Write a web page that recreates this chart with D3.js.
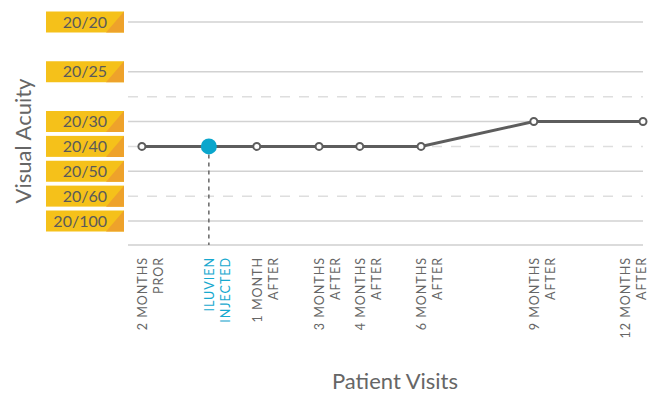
<!DOCTYPE html>
<html>
<head>
<meta charset="utf-8">
<script src="https://cdn.jsdelivr.net/npm/d3@7"></script>
<style>
  body { margin: 0; background: #fff; }
  text { font-family: Lato, "Open Sans", sans-serif; }
</style>
</head>
<body>
<div id="chart"></div>
<script>
// acuity levels (rank on the chart, top = best)
const acuityLabels = ['20/20', '20/25', '20/30', '20/40', '20/50', '20/60', '20/100'];
const acuityRank   = [0, 2, 4, 5, 6, 7, 8];
const gridRanks    = [0, 2, 3, 4, 5, 6, 7, 8];

// visits: position along the axis (percent of axis length) and acuity
const visitLine1 = ['2 MONTHS', 'ILUVIEN', '1 MONTH', '3 MONTHS', '4 MONTHS', '6 MONTHS', '9 MONTHS', '12 MONTHS'];
const visitLine2 = ['PROR', 'INJECTED', 'AFTER', 'AFTER', 'AFTER', 'AFTER', 'AFTER', 'AFTER'];
const visitPos   = [2.7, 15.7, 25.0, 37.1, 45.0, 56.9, 78.8, 100];
const visitAcuity = ['20/40', '20/40', '20/40', '20/40', '20/40', '20/40', '20/30', '20/30'];
const injectedIndex = 1;

const W = 650, H = 396;
const svg = d3.select('#chart').append('svg')
    .attr('width', W)
    .attr('height', H);

const x = d3.scaleLinear().domain([0, 100]).range([128, 643]);
const y = d3.scaleLinear().domain([0, 8]).range([22, 221]);
const rankOf = lbl => acuityRank[acuityLabels.indexOf(lbl)];

// grid lines: even ranks solid, odd ranks dashed
svg.append('g').selectAll('line')
    .data(gridRanks)
    .enter().append('line')
    .attr('x1', x(0)).attr('x2', x(100))
    .attr('y1', d => y(d)).attr('y2', d => y(d))
    .style('stroke', d => d % 2 === 0 ? '#d2d2d2' : '#dedede')
    .style('stroke-width', 1.5)
    .style('stroke-dasharray', d => d % 2 === 0 ? null : '10,9');

// x axis baseline
svg.append('line')
    .attr('x1', x(0)).attr('x2', x(100))
    .attr('y1', 245).attr('y2', 245)
    .style('stroke', '#cfcfcf')
    .style('stroke-width', 1.5);

// badges
const badge = svg.append('g').selectAll('g')
    .data(acuityLabels)
    .enter().append('g')
    .attr('transform', (d, i) => `translate(46,${y(acuityRank[i]) - 10.5})`);

badge.append('rect')
    .attr('width', 78).attr('height', 21)
    .style('fill', '#f5c11a');

badge.append('path')
    .attr('d', 'M60,21 L78,0 L78,21 Z')
    .style('fill', '#eea22b');

badge.append('text')
    .attr('x', 61).attr('y', 16)
    .attr('text-anchor', 'end')
    .style('font-size', '16px')
    .style('fill', '#5a5a5a')
    .text(d => d);

// dashed drop line for injection
svg.append('line')
    .attr('x1', x(visitPos[injectedIndex])).attr('x2', x(visitPos[injectedIndex]))
    .attr('y1', y(rankOf(visitAcuity[injectedIndex]))).attr('y2', 245)
    .style('stroke', '#666')
    .style('stroke-width', 1.5)
    .style('stroke-dasharray', '4,4');

// series line
const line = d3.line()
    .x((d, i) => x(visitPos[i]))
    .y(d => y(rankOf(d)));

svg.append('path')
    .datum(visitAcuity)
    .attr('d', line)
    .style('fill', 'none')
    .style('stroke', '#5d5d5d')
    .style('stroke-width', 3);

// markers
svg.append('g').selectAll('circle')
    .data(visitAcuity)
    .enter().append('circle')
    .attr('cx', (d, i) => x(visitPos[i]))
    .attr('cy', d => y(rankOf(d)))
    .attr('r', (d, i) => i === injectedIndex ? 8 : 3.5)
    .style('fill', (d, i) => i === injectedIndex ? '#0aa6cc' : '#fff')
    .style('stroke', (d, i) => i === injectedIndex ? 'none' : '#5d5d5d')
    .style('stroke-width', 2);

// x tick labels (rotated, two lines); last one is clamped near the edge
const tick = svg.append('g').selectAll('g')
    .data(visitLine1)
    .enter().append('g')
    .attr('transform', (d, i) => `translate(${Math.min(x(visitPos[i]), W - 25)},257) rotate(-90)`);

tick.append('text')
    .attr('text-anchor', 'end')
    .style('font-size', '12.5px')
    .style('letter-spacing', '1px')
    .style('fill', (d, i) => i === injectedIndex ? '#17a9cf' : '#666')
    .each(function(d, i) {
        const t = d3.select(this);
        t.append('tspan').attr('x', 0).attr('y', 5).text(visitLine1[i]);
        t.append('tspan').attr('x', 0).attr('y', 21).text(visitLine2[i]);
    });

// axis titles
svg.append('text')
    .attr('transform', 'translate(31,141) rotate(-90)')
    .attr('text-anchor', 'middle')
    .style('font-size', '22px')
    .style('fill', '#666')
    .text('Visual Acuity');

svg.append('text')
    .attr('x', 395).attr('y', 389)
    .attr('text-anchor', 'middle')
    .style('font-size', '22px')
    .style('fill', '#666')
    .text('Patient Visits');
</script>
</body>
</html>
